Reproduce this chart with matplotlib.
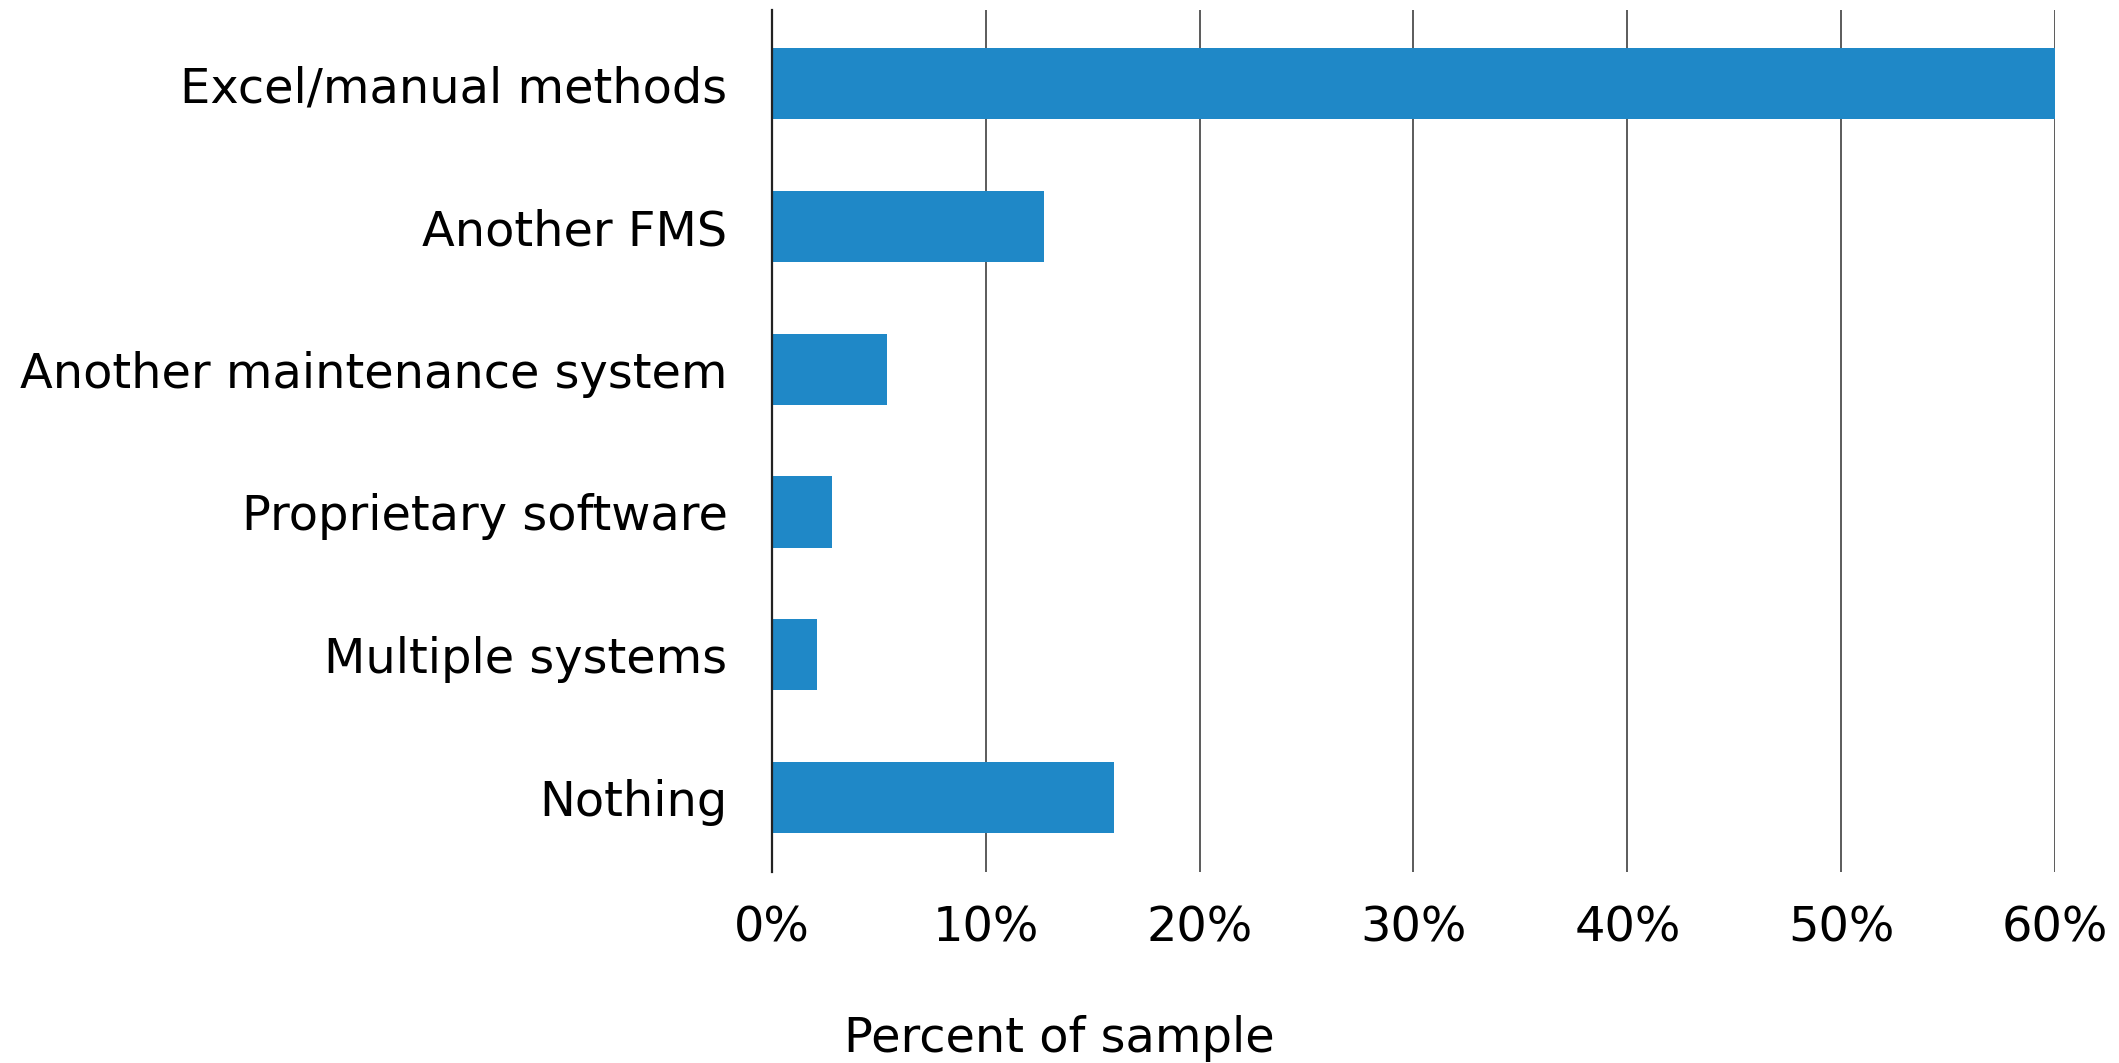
import matplotlib.pyplot as plt
from matplotlib.ticker import FuncFormatter

# Datos
categorias = ['Excel/manual methods', 'Another FMS', 'Another maintenance system',
              'Proprietary software', 'Multiple systems', 'Nothing']
porcentajes = [60.0, 12.7, 5.4, 2.8, 2.1, 16.0]
ticks_x = [0, 10, 20, 30, 40, 50, 60]

plt.rcParams['font.family'] = 'DejaVu Sans'

fig = plt.figure(figsize=(21.19, 10.63), dpi=100)
ax = fig.add_axes([0.3643, 0.180, 0.6055, 0.811])

posiciones = list(range(len(categorias)))
ax.barh(posiciones, porcentajes, height=0.5, color='#1f88c7', zorder=2)
ax.set_ylim(len(categorias) - 0.48, -0.52)
ax.set_xlim(0, 60)
ax.set_yticks(posiciones)
ax.set_yticklabels(categorias, fontsize=34.5)
ax.set_xticks(ticks_x)
ax.xaxis.set_major_formatter(FuncFormatter(lambda v, p: f'{v:.0f}%'))
ax.tick_params(axis='x', labelsize=34.5, length=0, pad=24)
ax.tick_params(axis='y', length=0, pad=32)

# Líneas verticales de la cuadrícula
ax.grid(axis='x', color='#404040', linewidth=1.2, zorder=1)
for lado in ['top', 'right', 'bottom']:
    ax.spines[lado].set_visible(False)
ax.spines['left'].set_color('#222222')
ax.spines['left'].set_linewidth(1.6)
ax.spines['left'].set_zorder(3)

fig.text(0.5, 0.023, 'Percent of sample', ha='center', va='center', fontsize=34.5)

plt.savefig('out.png', dpi=100)
